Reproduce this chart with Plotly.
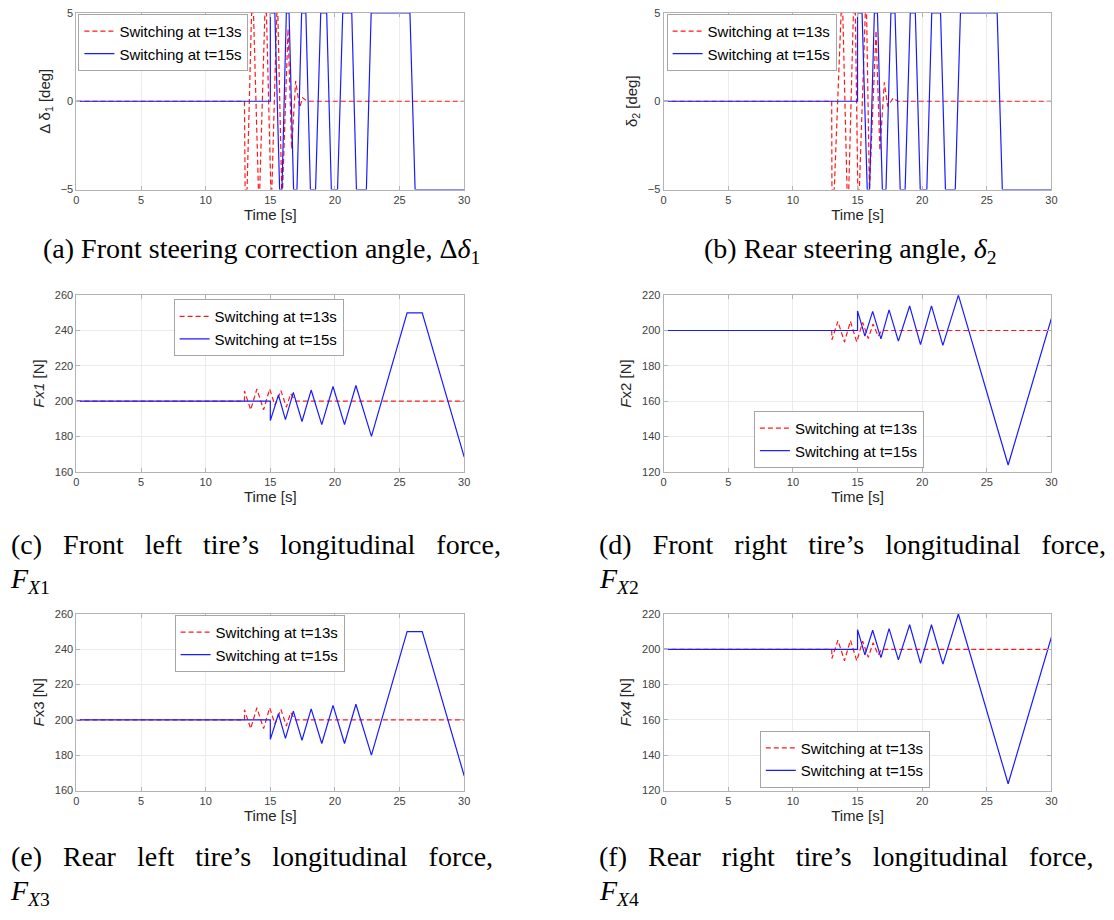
import plotly.graph_objects as go

# ---------------- data ----------------
# (a) front steering correction angle [deg]
t_a13 = [0, 13.0, 13.05, 13.2, 13.55, 13.7, 14.08, 14.18, 14.58, 14.7, 15.04, 15.12,
         15.5, 15.58, 15.88, 15.95, 16.37, 16.65, 16.96, 17.27, 17.5, 17.85, 30]
d_a13 = [0, 0, -5, -5, 5, 5, -5, -5, 5, 5, -5, -5,
         5, 5, -5, -5, 4.1, -2.7, 1.15, -0.35, 0.2, 0, 0]
t_a15 = [0, 15.0, 15.0, 15.35, 15.72, 15.9, 16.24, 16.45, 16.8, 17.06, 17.42, 17.75,
         18.1, 18.5, 18.9, 19.36, 19.72, 20.2, 20.6, 21.3, 21.66, 22.43, 22.8, 25.8, 26.2, 30]
d_a15 = [0, 0, 5, 5, -5, -5, 5, 5, -5, -5, 5, 5,
         -5, -5, 5, 5, -5, -5, 5, 5, -5, -5, 5, 5, -5, -5]

# (b) rear steering angle [deg]
t_b13 = [0, 13.0, 13.02, 13.2, 13.73, 13.86, 14.19, 14.32, 14.68, 14.83, 15.02, 15.14,
         15.6, 15.7, 15.92, 16.43, 16.73, 17.07, 17.33, 17.76, 18.1, 30]
d_b13 = [0, 0, -5, -5, 5, 5, -5, -5, 5, 5, -5, -5,
         5, 5, -5, 4.0, -2.8, 1.07, -0.29, 0.18, 0, 0]
t_b15 = [0, 15.0, 15.0, 15.35, 15.75, 15.93, 16.3, 16.54, 16.92, 17.2, 17.58, 17.9,
         18.3, 18.68, 19.08, 19.47, 19.85, 20.36, 20.74, 21.42, 21.8, 22.56, 22.96, 25.8, 26.2, 30]
d_b15 = [0, 0, 5, 5, -5, -5, 5, 5, -5, -5, 5, 5,
         -5, -5, 5, 5, -5, -5, 5, 5, -5, -5, 5, 5, -5, -5]

# (c),(e) left tyre longitudinal force [N]
t_l13 = [0, 13.0, 13.0, 13.48, 13.96, 14.48, 14.95, 15.35, 15.82, 16.24, 16.58, 16.94, 30]
f_l13 = [200, 200, 205.8, 195.1, 206.9, 195.1, 206.9, 197.8, 206.0, 196.6, 204.2, 200, 200]
t_l15 = [0, 15.0, 15.0, 15.63, 16.17, 16.78, 17.45, 18.16, 18.98, 19.85, 20.74, 21.62,
         22.82, 25.58, 26.75, 30]
f_l15 = [200, 200, 189, 203.5, 189.6, 205.0, 188.5, 206.3, 186.7, 208.3, 186.7, 208.9,
         180.1, 250, 250, 168.3]

# (d),(f) right tyre longitudinal force [N]
t_r13 = [0, 13.0, 13.02, 13.48, 13.99, 14.45, 14.94, 15.4, 15.83, 16.2, 16.6, 16.85, 30]
f_r13 = [200, 200, 194.8, 205.2, 193.5, 205.2, 193.5, 204.6, 195.4, 203.7, 196.8, 200, 200]
t_r15 = [0, 15.0, 15.0, 15.57, 16.17, 16.81, 17.44, 18.16, 19.03, 19.87, 20.72, 21.6,
         22.8, 26.65, 30]
f_r15 = [200, 200, 211.1, 196.8, 210.8, 195.3, 211.7, 194.0, 213.9, 192.0, 213.9, 191.6,
         220, 123.9, 207]

x_ticks = [0, 5, 10, 15, 20, 25, 30]
y_ticks_angle = [-5, 0, 5]
y_ticks_left = [160, 180, 200, 220, 240, 260]
y_ticks_right = [120, 140, 160, 180, 200, 220]

leg13 = "Switching at t=13s"
leg15 = "Switching at t=15s"

# ---------------- layout geometry ----------------
W, H = 1114, 920
def px(x):
    return x / W
def py(y):
    return 1 - y / H

col_dom = [[px(74), px(465)], [px(666), px(1057)]]
row_dom = [[py(186), py(7)], [py(472), py(293)], [py(795), py(616)]]

RED = "#ff1a1a"
BLUE = "#1a1aff"

panels = [
    # (t13, v13, t15, v15, row, col, yrange, yticks, ytitle, legend pos(x,y px), anchor)
    (t_a13, d_a13, t_a15, d_a15, 0, 0, [-5, 5], y_ticks_angle, "Δ δ<sub>1</sub> [deg]", (76, 8), "top"),
    (t_b13, d_b13, t_b15, d_b15, 0, 1, [-5, 5], y_ticks_angle, "δ<sub>2</sub> [deg]", (669, 8), "top"),
    (t_l13, f_l13, t_l15, f_l15, 1, 0, [160, 260], y_ticks_left, "<i>Fx1</i> [N]", (172, 297), "top"),
    (t_r13, f_r13, t_r15, f_r15, 1, 1, [120, 220], y_ticks_right, "<i>F</i>x2 [N]", (757, 468), "bottom"),
    (t_l13, f_l13, t_l15, f_l15, 2, 0, [160, 260], y_ticks_left, "<i>F</i>x3 [N]", (173, 617), "top"),
    (t_r13, f_r13, t_r15, f_r15, 2, 1, [120, 220], y_ticks_right, "<i>Fx4</i> [N]", (763, 792), "bottom"),
]

fig = go.Figure()
layout = dict(
    width=W, height=H,
    margin=dict(l=0, r=0, t=0, b=0),
    paper_bgcolor="white", plot_bgcolor="white",
    font=dict(family="Liberation Sans, Arial, sans-serif", color="#262626"),
    showlegend=True,
)

axis_common = dict(
    showline=True, linecolor="#b3b3b3", linewidth=1, mirror="ticks",
    ticks="inside", ticklen=4, tickcolor="#b3b3b3",
    showgrid=True, gridcolor="#ebebeb", gridwidth=1, zeroline=False,
    tickfont=dict(size=11, color="#404040"),
)

for i, (t13, v13, t15, v15, r, c, yr, yt, ytitle, lpos, lanch) in enumerate(panels):
    n = i + 1
    xa = "x" if n == 1 else f"x{n}"
    ya = "y" if n == 1 else f"y{n}"
    lg = "legend" if n == 1 else f"legend{n}"
    fig.add_trace(go.Scatter(x=t13, y=v13, mode="lines", name=leg13,
                             line=dict(color=RED, width=1.2, dash="5px,3px"),
                             xaxis=xa, yaxis=ya, legend=lg))
    fig.add_trace(go.Scatter(x=t15, y=v15, mode="lines", name=leg15,
                             line=dict(color=BLUE, width=1.2),
                             xaxis=xa, yaxis=ya, legend=lg))
    xkey = "xaxis" if n == 1 else f"xaxis{n}"
    ykey = "yaxis" if n == 1 else f"yaxis{n}"
    layout[xkey] = dict(axis_common, domain=col_dom[c], anchor=ya, range=[0, 30],
                        tickvals=x_ticks,
                        title=dict(text="Time [s]", font=dict(size=15, color="#262626"),
                                   standoff=4))
    layout[ykey] = dict(axis_common, domain=row_dom[r], anchor=xa, range=yr,
                        tickvals=yt,
                        title=dict(text=ytitle, font=dict(size=15, color="#262626"),
                                   standoff=6))
    layout[lg] = dict(x=px(lpos[0]), y=py(lpos[1]), xanchor="left", yanchor=lanch,
                      bgcolor="white", bordercolor="#a6a6a6", borderwidth=1,
                      font=dict(size=15, color="#000000"),
                      tracegroupgap=0, itemwidth=30)

fig.update_layout(**layout)

# ---------------- captions ----------------
CAP = dict(family="Liberation Serif, Times New Roman, serif", size=28, color="#000000")
NB = "\u00a0"


def spaced(words, gap):
    return (NB * gap).join(words)


cap_c = spaced(["(c)", "Front", "left", "tire’s", "longitudinal", "force,"], 3)
cap_d = spaced(["(d)", "Front", "right", "tire’s", "longitudinal", "force,"], 3)
cap_e = spaced(["(e)", "Rear", "left", "tire’s", "longitudinal", "force,"], 3)
cap_f = spaced(["(f)", "Rear", "right", "tire’s", "longitudinal", "force,"], 3)

captions = [
    (261, 248, "(a) Front steering correction angle, Δ<i>δ</i><sub>1</sub>", "center"),
    (854, 248, "(b) Rear steering angle, <i>δ</i><sub>2</sub>", "center"),
    (6, 546, cap_c, "left"),
    (5, 582, "<i>F</i><sub><i>X</i>1</sub>", "left"),
    (599, 546, cap_d, "left"),
    (599, 582, "<i>F</i><sub><i>X</i>2</sub>", "left"),
    (6, 862, cap_e, "left"),
    (5, 898, "<i>F</i><sub><i>X</i>3</sub>", "left"),
    (599, 862, cap_f, "left"),
    (599, 898, "<i>F</i><sub><i>X</i>4</sub>", "left"),
]
for x, y, txt, anc in captions:
    fig.add_annotation(x=px(x), y=py(y), xref="paper", yref="paper",
                       xanchor=anc, yanchor="middle", text=txt,
                       showarrow=False, font=CAP)

fig.write_html("out.html",
               config={"displayModeBar": False},
               post_script="document.body.style.margin='0';document.body.style.overflow='hidden';")
